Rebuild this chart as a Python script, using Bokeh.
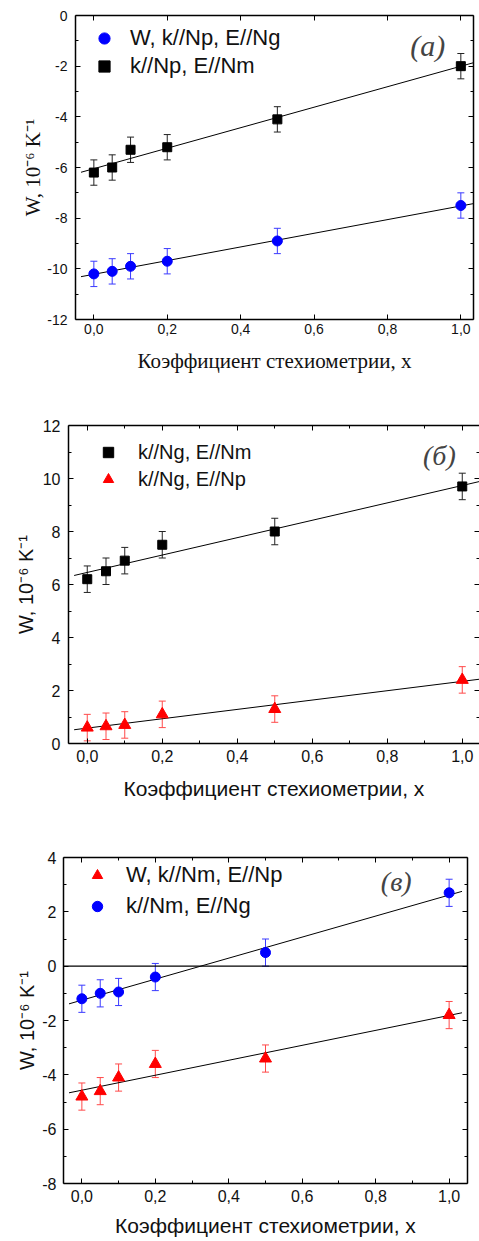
import numpy as np
from bokeh.plotting import figure
from bokeh.models import (Range1d, LinearAxis, FixedTicker, CustomJSTickFormatter, Whisker,
                          TeeHead, ColumnDataSource, Legend, LegendItem, Label, Span,
                          CustomLabelingPolicy)
from bokeh.embed import file_html
from bokeh.resources import INLINE

# ---------------- data ----------------
x_vals = [0.0, 0.05, 0.1, 0.2, 0.5, 1.0]
err = 0.5

a_blue = [-10.2, -10.1, -9.9, -9.7, -8.9, -7.5]      # W, k//Np, E//Ng
a_black = [-6.2, -6.0, -5.3, -5.2, -4.1, -2.0]       # k//Np, E//Nm
b_black = [6.2, 6.5, 6.9, 7.5, 8.0, 9.7]             # k//Ng, E//Nm
b_red = [0.6, 0.65, 0.7, 1.1, 1.3, 2.4]              # k//Ng, E//Np
c_red = [-4.8, -4.6, -4.1, -3.6, -3.4, -1.8]         # W, k//Nm, E//Np
c_blue = [-1.2, -1.0, -0.95, -0.4, 0.5, 2.7]         # k//Nm, E//Ng

labels_a = ["W, k//Np, E//Ng", "k//Np, E//Nm"]
labels_b = ["k//Ng, E//Nm", "k//Ng, E//Np"]
labels_c = ["W, k//Nm, E//Np", "k//Nm, E//Ng"]

x_ticks = [0.0, 0.2, 0.4, 0.6, 0.8, 1.0]
x_minor = [0.1, 0.3, 0.5, 0.7, 0.9]
a_yticks = [-12, -10, -8, -6, -4, -2, 0]
a_yminor = [-11, -9, -7, -5, -3, -1]
b_yticks = [0, 2, 4, 6, 8, 10, 12]
b_yminor = [1, 3, 5, 7, 9, 11]
c_yticks = [-8, -6, -4, -2, 0, 2, 4]
c_yminor = [-7, -5, -3, -1, 1, 3]

fit_x_a = [-0.035, 1.035]
fit_x_b = [-0.035, 1.046]
fit_x_c = [-0.035, 1.035]

x_label = "Коэффициент стехиометрии, x"
y_label = "W, 10⁻⁶ K⁻¹"

SANS = "Liberation Sans"
SERIF = "Liberation Serif"

BLUE = "#0000ff"
RED = "#ff0000"
BLACK = "#000000"
BLUE_ERR = "#3a3aff"
RED_ERR = "#ff4a4a"
BLACK_ERR = "#222222"

xfmt = CustomJSTickFormatter(code="return tick.toFixed(1).replace('.', ',');")
yfmt = CustomJSTickFormatter(code="return tick.toFixed(0);")
no_labels = CustomLabelingPolicy(code="return []")


def style_axis(ax, ticker, fmt, font_size, show_labels=True, show_line=True):
    ax.ticker = ticker
    ax.formatter = fmt
    ax.major_tick_in = 5
    ax.major_tick_out = 0
    ax.minor_tick_in = 3
    ax.minor_tick_out = 0
    ax.major_tick_line_color = "black"
    ax.minor_tick_line_color = "black"
    ax.major_tick_line_width = 1
    ax.minor_tick_line_width = 1
    ax.axis_line_width = 1.5
    ax.axis_line_color = "black" if show_line else None
    ax.major_label_text_font = SANS
    ax.major_label_text_color = "#111111"
    ax.major_label_text_font_size = font_size
    if not show_labels:
        # mirror axis: ticks only, no labels and no space reserved for them
        ax.major_label_policy = no_labels
        ax.major_label_text_font_size = "0px"
        ax.major_label_standoff = 0
        ax.axis_label = None


def make_fig(height, width, xr, yr, bl, br, bt, bb, xminor, yticks, yminor, tick_fs,
             xstand, ystand, right_line=True):
    p = figure(width=width, height=height, x_range=Range1d(*xr), y_range=Range1d(*yr),
               output_backend="svg", toolbar_location=None,
               min_border_left=bl, min_border_right=br, min_border_top=bt, min_border_bottom=bb)
    p.outline_line_color = None
    p.grid.visible = False
    p.background_fill_color = "white"
    p.border_fill_color = "white"
    bottom = p.below[0]
    left = p.left[0]
    style_axis(bottom, FixedTicker(ticks=x_ticks, minor_ticks=xminor), xfmt, tick_fs)
    style_axis(left, FixedTicker(ticks=yticks, minor_ticks=yminor), yfmt, tick_fs)
    bottom.major_label_standoff = xstand
    left.major_label_standoff = ystand
    top = LinearAxis()
    style_axis(top, FixedTicker(ticks=x_ticks, minor_ticks=xminor), xfmt, tick_fs, show_labels=False)
    p.add_layout(top, "above")
    right = LinearAxis()
    style_axis(right, FixedTicker(ticks=yticks, minor_ticks=yminor), yfmt, tick_fs,
               show_labels=False, show_line=right_line)
    p.add_layout(right, "right")
    return p, bottom, left


def set_label(ax, text, font, size, standoff):
    ax.axis_label = text
    ax.axis_label_text_font = font
    ax.axis_label_text_font_style = "normal"
    ax.axis_label_text_font_size = size
    ax.axis_label_text_color = "#111111"
    ax.axis_label_standoff = standoff


def add_series(p, ys, marker, size, color, err_color, fit_x):
    src = ColumnDataSource(dict(x=x_vals, y=ys,
                                up=[v + err for v in ys], lo=[v - err for v in ys]))
    w = Whisker(base="x", upper="up", lower="lo", source=src, line_color=err_color, line_width=1,
                upper_head=TeeHead(size=7, line_color=err_color, line_width=1),
                lower_head=TeeHead(size=7, line_color=err_color, line_width=1))
    p.add_layout(w)
    k, b = np.polyfit(x_vals, ys, 1)
    fx = np.array(fit_x)
    p.line(fx, k * fx + b, line_color="black", line_width=1)
    r = p.scatter("x", "y", source=src, marker=marker, size=size, fill_color=color,
                  line_color=color)
    return r


def add_legend(p, items, font_size, margin, gw, gh, standoff, spacing):
    leg = Legend(items=[LegendItem(label=t, renderers=[r]) for t, r in items],
                 location="top_left", margin=margin, padding=0, spacing=spacing,
                 glyph_width=gw, glyph_height=gh, label_standoff=standoff,
                 label_text_font=SANS, label_text_font_size=font_size,
                 label_text_color="#111111",
                 border_line_color=None, background_fill_alpha=0)
    p.add_layout(leg)


# ---------------- panel (a) ----------------
pa, pa_x, pa_y = make_fig(400, 479, (-0.05, 1.0345), (-12, 0), 75, 6, 15, 81, [],
                          a_yticks, a_yminor, "14px", 4, 8)
r_ab = add_series(pa, a_blue, "circle", 10, BLUE, BLUE_ERR, fit_x_a)
r_ak = add_series(pa, a_black, "square", 9, BLACK, BLACK_ERR, fit_x_a)
add_legend(pa, [(labels_a[0], r_ab), (labels_a[1], r_ak)], "22px", 9, 40, 28, 6, 0)
pa.add_layout(Label(x=0.91, y=-1.18, text="(а)", text_font=SERIF, text_font_style="italic",
                    text_font_size="30px", text_align="center", text_baseline="middle"))
set_label(pa_x, x_label, SERIF, "21px", 12)
set_label(pa_y, y_label, SERIF, "21px", -1)

# ---------------- panel (б) ----------------
pb, pb_x, pb_y = make_fig(432, 479, (-0.05, 1.046), (0, 12), 68, 0, 25, 89, x_minor,
                          b_yticks, b_yminor, "16px", 6, 8, right_line=False)
r_bk = add_series(pb, b_black, "square", 9, BLACK, BLACK_ERR, fit_x_b)
r_br = add_series(pb, b_red, "triangle", 12, RED, RED_ERR, fit_x_b)
add_legend(pb, [(labels_b[0], r_bk), (labels_b[1], r_br)], "20px", 14, 52, 26, 4, 1)
pb.add_layout(Label(x=0.939, y=10.87, text="(б)", text_font=SERIF, text_font_style="italic",
                    text_font_size="28px", text_align="center", text_baseline="middle"))
set_label(pb_x, x_label, SANS, "21px", 12)
set_label(pb_y, y_label, SANS, "20px", 3)

# ---------------- panel (в) ----------------
pc, pc_x, pc_y = make_fig(409, 479, (-0.05, 1.05), (-8, 4), 63, 12, 25, 58, x_minor,
                          c_yticks, c_yminor, "16px", 6, 7)
pc.add_layout(Span(location=0, dimension="width", line_color="black", line_width=1.2))
r_cr = add_series(pc, c_red, "triangle", 12, RED, RED_ERR, fit_x_c)
r_cb = add_series(pc, c_blue, "circle", 10, BLUE, BLUE_ERR, fit_x_c)
add_legend(pc, [(labels_c[0], r_cr), (labels_c[1], r_cb)], "22px", 5, 58, 26, 0, 5)
pc.add_layout(Label(x=0.856, y=3.1, text="(в)", text_font=SERIF, text_font_style="italic",
                    text_font_size="28px", text_align="center", text_baseline="middle"))
set_label(pc_x, x_label, SANS, "21px", 9)
set_label(pc_y, y_label, SANS, "20px", 1)

# separate roots so that Bokeh does not align the three frames with each other
open("out.html", "w").write(file_html([pa, pb, pc], INLINE))
